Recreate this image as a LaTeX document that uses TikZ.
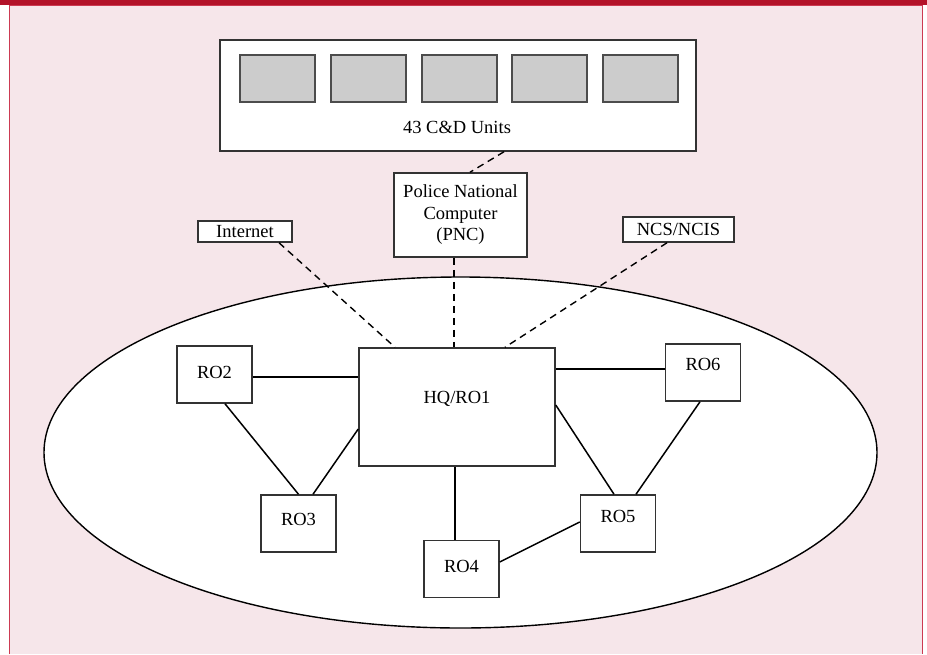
\documentclass[tikz,border=0pt]{standalone}
\usepackage{fontspec}
\setmainfont{Liberation Serif}
\usetikzlibrary{shapes.geometric}
\definecolor{barred}{HTML}{B31229}
\definecolor{edgered}{HTML}{CC3A52}
\definecolor{panelpink}{HTML}{F6E6EA}
\definecolor{unitgray}{HTML}{CCCCCC}
\definecolor{boxline}{HTML}{333333}

\begin{document}
\begin{tikzpicture}[x=1pt,y=-1pt,
  font=\fontsize{18.5}{21.5}\selectfont,
  box/.style={draw=boxline, line width=1.5pt, fill=white, rectangle, inner sep=0pt, align=center},
  robox/.style={box, minimum width=75pt, minimum height=57pt},
  unit/.style={draw=black!70, line width=1.8pt, fill=unitgray, inner sep=0pt,
               minimum width=75pt, minimum height=47pt},
  link/.style={line width=1.5pt},
  hardlink/.style={line width=2pt},
  remote/.style={line width=1.4pt, dash pattern=on 7pt off 5pt},
]
\useasboundingbox (0,0) rectangle (927,654);
% page panel with top bar
\fill[white] (0,0) rectangle (927,654);
\fill[panelpink] (9,5) rectangle (922,654);
\draw[edgered, line width=0.9pt] (9,654) -- (9,5) -- (922,5) -- (922,654);
\fill[barred] (0,0) rectangle (927,5);

% regional network area
\node[draw, line width=1.4pt, fill=white, ellipse, inner sep=0pt,
      minimum width=833pt, minimum height=351pt] (region) at (460.5,452.5) {};

% command and control units
\node[box, minimum width=476pt, minimum height=111pt] (units) at (458,95.5) {};
\foreach \x [count=\i] in {277.5,368.5,459.5,549.5,640.5}
  \node[unit] (u\i) at (\x,78.5) {};
\node (unitslabel) at (457,127) {43 C\&D Units};

% external systems
\node[box, minimum width=133pt, minimum height=84pt] (pnc) at (460.5,215)
  {Police National\\Computer\\(PNC)};
\node[box, minimum width=94pt, minimum height=21pt] (inet) at (245,231.5) {Internet};
\node[box, minimum width=111pt, minimum height=25pt] (ncs) at (678.5,229.5) {NCS/NCIS};

% offices
\node[box, minimum width=196pt, minimum height=118pt, text depth=19pt] (hq) at (457,407) {HQ/RO1};
\node[robox, text depth=3.6pt] (ro2) at (214.5,374.5) {RO2};
\node[robox, text depth=7.6pt] (ro3) at (298.5,523.5) {RO3};
\node[robox, text depth=4.6pt] (ro4) at (461.5,569) {RO4};
\node[robox, text depth=13.6pt] (ro5) at (618,523.5) {RO5};
\node[robox, text depth=15.6pt] (ro6) at (703,372.5) {RO6};

% internal links
\coordinate (r2e) at ([yshift=-2.5pt]ro2.east);
\draw[hardlink] (r2e) -- (r2e -| hq.west);
\draw[link] ([xshift=10.5pt]ro2.south) -- (ro3.north);
\draw[link] ([yshift=-22pt]hq.west) -- ([xshift=14.5pt]ro3.north);
\coordinate (hqs) at ([xshift=-2pt]hq.south);
\draw[hardlink] (hqs) -- (hqs |- ro4.north);
\draw[link] ([yshift=7pt]ro4.east) -- ([yshift=1.5pt]ro5.west);
\draw[link] ([yshift=2pt]hq.east) -- ([xshift=-4pt]ro5.north);
\draw[link] ([xshift=-3pt]ro6.south) -- ([xshift=18pt]ro5.north);
\coordinate (r6w) at ([yshift=3.5pt]ro6.west);
\draw[hardlink] (r6w -| hq.east) -- (r6w);

% external links
\draw[remote] ([xshift=34pt]inet.south) -- ([xshift=-62pt]hq.north);
\coordinate (pncs) at ([xshift=-6.5pt]pnc.south);
\draw[remote, line width=2pt] (pncs) -- (pncs |- hq.north);
\draw[remote] ([xshift=-11.5pt]ncs.south) -- ([xshift=48pt]hq.north);
\draw[remote] ([xshift=46pt]units.south) -- ([xshift=9.5pt]pnc.north);
\end{tikzpicture}
\end{document}
